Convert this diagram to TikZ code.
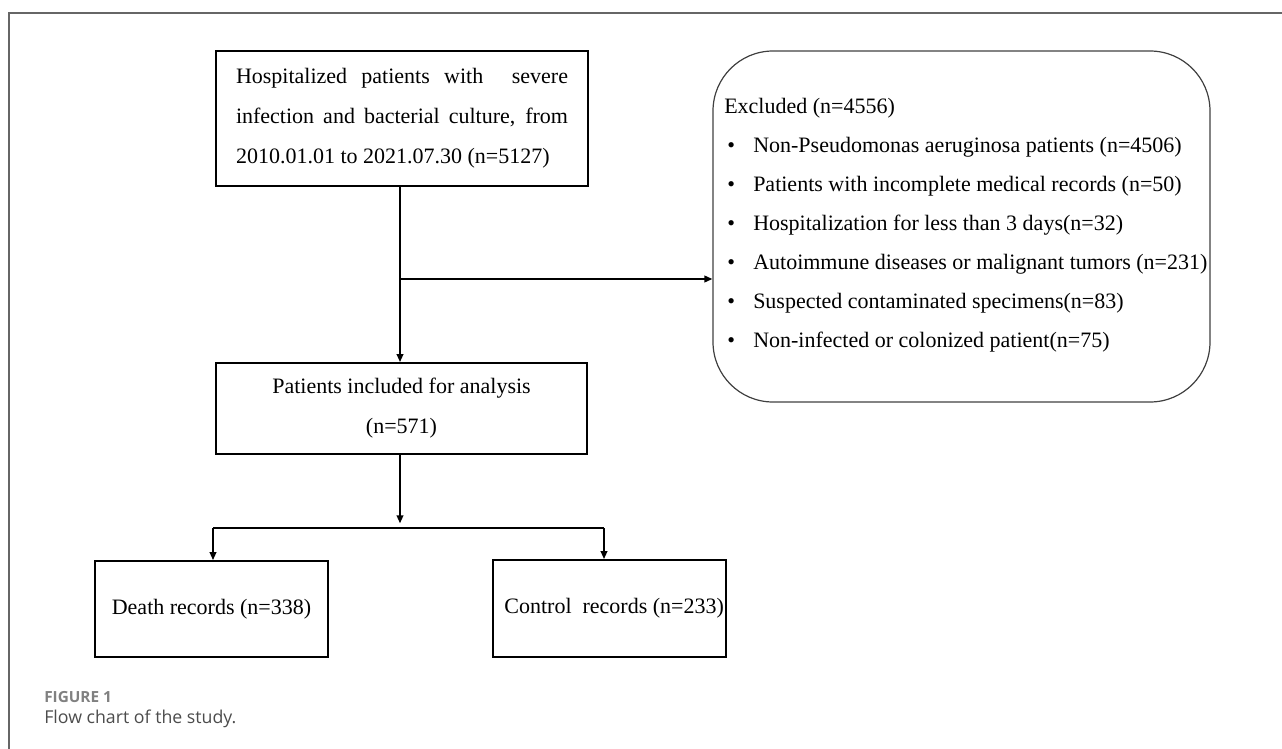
\documentclass[tikz,border=0pt]{standalone}
\usepackage{fontspec}
\setmainfont{Liberation Serif}
\newfontfamily\capfont{Open Sans}
\usetikzlibrary{positioning,arrows.meta}

\begin{document}
\begin{tikzpicture}[
  x=0.75pt, y=-0.75pt,
  box/.style={draw, line width=1.4pt, inner sep=0pt, align=center,
              font=\fontsize{16.5}{30}\selectfont},
  exbox/.style={draw=black!75, line width=0.9pt, rounded corners=45pt,
                minimum width=372.75pt, minimum height=263.25pt},
  extext/.style={inner sep=0pt, align=left,
                 font=\fontsize{16.5}{29.3}\selectfont},
  arr/.style={-{Triangle[length=6pt,width=5pt]}, line width=1.3pt},
  link/.style={line width=1.3pt},
]
\useasboundingbox (0,0) rectangle (1282,749);
\draw[black!60, line width=0.8pt] (1282,13) -- (9,13) -- (9,749);

%% -- main column ------------------------------------------------------------
\node[box, align=justify, text width=249pt, minimum width=279pt,
      minimum height=101.25pt] (hosp) at (402,118.5)
  {Hospitalized patients with\ \ severe\linebreak
   infection and bacterial culture, from\linebreak
   2010.01.01 to 2021.07.30 (n=5127)};
\node[box, minimum width=278.25pt, minimum height=68.25pt] (incl) at (401.5,408.5)
  {Patients included for analysis\\(n=571)};

%% -- outcome groups -----------------------------------------------------------
\node[box, minimum width=174.75pt, minimum height=72pt] (death) at (211.5,609)
  {Death records (n=338)};
\node[box, minimum width=174.75pt, minimum height=72.75pt] (ctrl) at (609.5,608.5)
  {\hspace*{7pt}Control\ \ records (n=233)};

%% -- exclusions ---------------------------------------------------------------
\newcommand{\exitem}[1]{\hspace*{2.25pt}\makebox[19.5pt][l]{\textbullet}#1}
\node[exbox] (excl) at (961.5,226.5) {};
\node[extext, anchor=west] (excltxt) at (724,225.5)
  {Excluded (n=4556)\\
   \exitem{Non-Pseudomonas aeruginosa patients (n=4506)}\\
   \exitem{Patients with incomplete medical records (n=50)}\\
   \exitem{Hospitalization for less than 3 days(n=32)}\\
   \exitem{Autoimmune diseases or malignant tumors (n=231)}\\
   \exitem{Suspected contaminated specimens(n=83)}\\
   \exitem{Non-infected or colonized patient(n=75)}};

%% -- connectors ---------------------------------------------------------------
\coordinate (split) at (400,279);
\coordinate (forkL) at (213,528);
\coordinate (forkR) at (604,528);
\draw[arr] (split |- hosp.south) -- (split |- incl.north);
\draw[arr] (split) -- (split -| excl.west);
\draw[arr] (split |- incl.south) -- ([yshift=3.5pt]split |- forkL);
\draw[link] (forkL) -- (forkR);
\draw[arr] (forkL) -- (forkL |- death.north);
\draw[arr] (forkR) -- (forkR |- ctrl.north);

%% -- caption ------------------------------------------------------------------
\node[anchor=base west, inner sep=0pt, text=black!50,
      font=\capfont\bfseries\fontsize{11.5}{13}\selectfont] (fig) at (44,702) {FIGURE 1};
\node[anchor=base west, inner sep=0pt, text=black!70,
      font=\capfont\fontsize{13.3}{15}\selectfont] (cap) at (44,723) {Flow chart of the study.};
\end{tikzpicture}
\end{document}
